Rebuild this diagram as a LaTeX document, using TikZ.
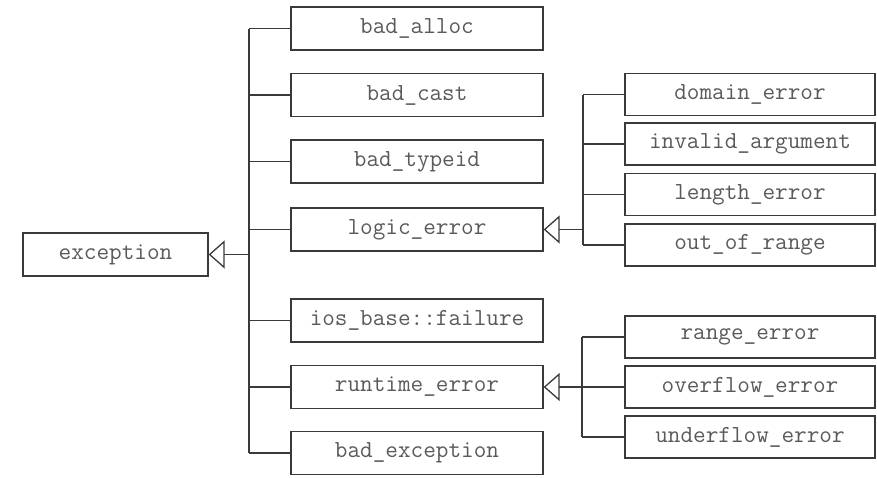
\documentclass[tikz,border=0pt]{standalone}
\usepackage{fontspec}
\usetikzlibrary{arrows.meta}
\definecolor{ink}{HTML}{3A3A3A}
\definecolor{txt}{HTML}{5A5A5A}
\begin{document}
\begin{tikzpicture}[x=1pt,y=-1pt,
  cls/.style={draw=ink, line width=1.3pt, minimum height=43pt, inner sep=0pt,
    font=\ttfamily\fontsize{24.5}{27}\selectfont, text=txt},
  mid/.style={cls, minimum width=252pt},
  rgt/.style={cls, minimum width=250pt, minimum height=42pt},
  conn/.style={draw=ink, line width=1.4pt},
  inh/.style={conn, {Triangle[open, length=16pt, width=28pt, line width=1.3pt]}-}]
\useasboundingbox (0,0) rectangle (877,477);
\node[cls, minimum width=185pt] (exc) at (115.5,254.5) {exception};
\node[mid] (ba) at (417,28.5) {bad\_alloc};
\node[mid] (bc) at (417,95) {bad\_cast};
\node[mid] (bt) at (417,161.5) {bad\_typeid};
\node[mid] (le) at (417,229.5) {logic\_error};
\node[mid] (io) at (417,320.5) {ios\_base::failure};
\node[mid] (re) at (417,387) {runtime\_error};
\node[mid] (be) at (417,453) {bad\_exception};
\node[rgt] (de) at (750,94.5) {domain\_error};
\node[rgt] (ia) at (750,144) {invalid\_argument};
\node[rgt] (lg) at (750,194.5) {length\_error};
\node[rgt] (oo) at (750,245) {out\_of\_range};
\node[rgt] (rg) at (750,337) {range\_error};
\node[rgt] (ov) at (750,387) {overflow\_error};
\node[rgt] (un) at (750,437) {underflow\_error};
\coordinate (t) at (249,254.5);
\coordinate (tl) at (583,229.5);
\coordinate (tr) at (582,387);
% main hierarchy
\draw[inh] (exc.east) -- (t);
\draw[conn] (t |- ba.west) -- (t |- be.west);
\foreach \n in {ba,bc,bt,le,io,re,be} \draw[conn] (\n.west) -- (t |- \n.west);
% logic_error
\draw[inh] (le.east) -- (tl);
\draw[conn] (tl |- de.west) -- (tl |- oo.west);
\foreach \n in {de,ia,lg,oo} \draw[conn] (\n.west) -- (tl |- \n.west);
% runtime_error
\draw[inh] (re.east) -- (tr);
\draw[conn] (tr |- rg.west) -- (tr |- un.west);
\foreach \n in {rg,ov,un} \draw[conn] (\n.west) -- (tr |- \n.west);
\end{tikzpicture}
\end{document}
